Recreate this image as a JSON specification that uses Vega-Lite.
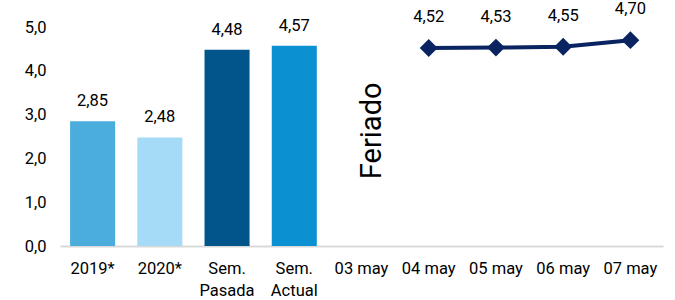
{
  "$schema": "https://vega.github.io/schema/vega-lite/v6.json",
  "width": 603,
  "height": 219,
  "autosize": {"type": "none"},
  "padding": {"left": 60, "top": 27, "right": 12, "bottom": 54},
  "background": "white",
  "config": {
    "font": "Roboto",
    "view": {"stroke": null},
    "axis": {"grid": false, "labelFont": "Roboto", "labelColor": "#000000"}
  },
  "data": {
    "values": [
      {"cat": "2019*", "value": 2.85, "type": "bar"},
      {"cat": "2020*", "value": 2.48, "type": "bar"},
      {"cat": "Sem. Pasada", "value": 4.48, "type": "bar"},
      {"cat": "Sem. Actual", "value": 4.57, "type": "bar"},
      {"cat": "03 may", "value": null, "type": "holiday", "note": "Feriado"},
      {"cat": "04 may", "value": 4.52, "type": "line"},
      {"cat": "05 may", "value": 4.53, "type": "line"},
      {"cat": "06 may", "value": 4.55, "type": "line"},
      {"cat": "07 may", "value": 4.70, "type": "line"}
    ]
  },
  "encoding": {
    "x": {
      "field": "cat",
      "type": "nominal",
      "sort": ["2019*", "2020*", "Sem. Pasada", "Sem. Actual", "03 may", "04 may", "05 may", "06 may", "07 may"],
      "scale": {"paddingInner": 0.33, "paddingOuter": 0.15},
      "axis": {
        "title": null,
        "labelAngle": 0,
        "labelFontSize": 16.5,
        "labelPadding": 14,
        "ticks": false,
        "domainColor": "#d9d9d9",
        "domainWidth": 2,
        "labelLineHeight": 22,
        "labelExpr": "indexof(datum.value,'Sem.')==0 ? split(datum.value,' ') : datum.value"
      }
    }
  },
  "layer": [
    {
      "transform": [{"filter": "datum.type == 'bar'"}],
      "mark": {"type": "bar"},
      "encoding": {
        "y": {
          "field": "value",
          "type": "quantitative",
          "scale": {"domain": [0, 5]},
          "axis": {
            "title": null,
            "domain": false,
            "ticks": false,
            "values": [0, 1, 2, 3, 4, 5],
            "labelFontSize": 16.5,
            "labelPadding": 14,
            "labelExpr": "replace(format(datum.value,'.1f'),'.',',')"
          }
        },
        "color": {
          "field": "cat",
          "type": "nominal",
          "legend": null,
          "scale": {
            "domain": ["2019*", "2020*", "Sem. Pasada", "Sem. Actual"],
            "range": ["#4aaddc", "#a5dbf6", "#02558b", "#0b91d1"]
          }
        }
      }
    },
    {
      "transform": [{"filter": "datum.type == 'bar'"}],
      "mark": {"type": "text", "dy": -20, "fontSize": 16.5, "color": "#000000", "text": {"expr": "replace(format(datum.value,'.2f'),'.',',')"}},
      "encoding": {
        "y": {"field": "value", "type": "quantitative"}
      }
    },
    {
      "transform": [{"filter": "datum.type == 'line'"}],
      "mark": {"type": "line", "color": "#0a2461", "strokeWidth": 4},
      "encoding": {
        "y": {"field": "value", "type": "quantitative"}
      }
    },
    {
      "transform": [{"filter": "datum.type == 'line'"}],
      "mark": {"type": "point", "shape": "diamond", "filled": true, "opacity": 1, "color": "#0a2461", "size": 320},
      "encoding": {
        "y": {"field": "value", "type": "quantitative"}
      }
    },
    {
      "transform": [{"filter": "datum.type == 'line'"}],
      "mark": {"type": "text", "dy": -31, "fontSize": 16.5, "color": "#000000", "text": {"expr": "replace(format(datum.value,'.2f'),'.',',')"}},
      "encoding": {
        "y": {"field": "value", "type": "quantitative"}
      }
    },
    {
      "transform": [{"filter": "datum.type == 'holiday'"}],
      "mark": {"type": "text", "angle": 270, "fontSize": 29, "color": "#000000", "align": "center", "baseline": "middle", "dy": 10},
      "encoding": {
        "y": {"datum": 2.63},
        "text": {"field": "note"}
      }
    }
  ]
}
